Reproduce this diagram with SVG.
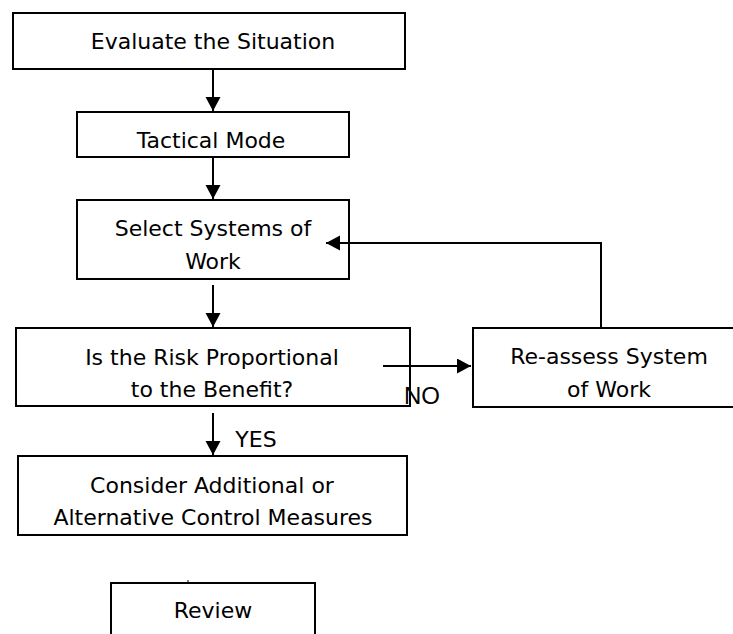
<svg xmlns="http://www.w3.org/2000/svg" width="733" height="634" viewBox="0 0 733 634">
<style>
.box{fill:#fff;stroke:#000;stroke-width:2}
.t{font-family:"DejaVu Sans",sans-serif;font-size:22px;fill:#000;text-anchor:middle}
.c{fill:none;stroke:#000;stroke-width:2}
.lbl{font-family:"Liberation Sans",Arial,sans-serif;font-size:24px;fill:#000}
</style>
<defs>
<marker id="ah" markerUnits="userSpaceOnUse" markerWidth="14" markerHeight="16" refX="14" refY="7.5" orient="auto">
<path d="M0,0 L14,7.5 L0,15 z" fill="#000"/>
</marker>
</defs>
<rect width="733" height="634" fill="#fff"/>
<g id="n1">
<rect class="box" x="13" y="13" width="392" height="56"/>
<text class="t" x="213" y="49">Evaluate the Situation</text>
</g>
<g id="n2">
<rect class="box" x="77" y="112" width="272" height="45"/>
<text class="t" x="211" y="148">Tactical Mode</text>
</g>
<g id="n3">
<rect class="box" x="77" y="200" width="272" height="79"/>
<text class="t" x="213" y="236">Select Systems of</text>
<text class="t" x="213" y="269">Work</text>
</g>
<g id="n4">
<rect class="box" x="16" y="328" width="394" height="78"/>
<text class="t" x="212" y="365">Is the Risk Proportional</text>
<text class="t" x="212" y="397">to the Benefit?</text>
</g>
<g id="n5">
<rect class="box" x="473" y="328" width="280" height="79"/>
<text class="t" x="609" y="364">Re-assess System</text>
<text class="t" x="609" y="397">of Work</text>
</g>
<g id="n6">
<rect class="box" x="18" y="456" width="389" height="79"/>
<text class="t" x="212" y="493">Consider Additional or</text>
<text class="t" x="213" y="525">Alternative Control Measures</text>
</g>
<g id="n7">
<rect class="box" x="111" y="583" width="204" height="70"/>
<text class="t" x="213" y="618">Review</text>
</g>
<g id="connectors">
<line class="c" x1="213" y1="69" x2="213" y2="111" marker-end="url(#ah)"/>
<line class="c" x1="213" y1="157" x2="213" y2="199" marker-end="url(#ah)"/>
<line class="c" x1="213" y1="285" x2="213" y2="327" marker-end="url(#ah)"/>
<line class="c" x1="213" y1="413" x2="213" y2="455" marker-end="url(#ah)"/>
<polyline class="c" points="601,328 601,243 326,243" marker-end="url(#ah)"/>
<line class="c" x1="383" y1="366" x2="471" y2="366" marker-end="url(#ah)"/>
<line stroke="#000" stroke-width="1" x1="188" y1="580" x2="188" y2="583"/>
</g>
<text class="lbl" x="404" y="404">NO</text>
<text class="t" x="256" y="447">YES</text>
</svg>
